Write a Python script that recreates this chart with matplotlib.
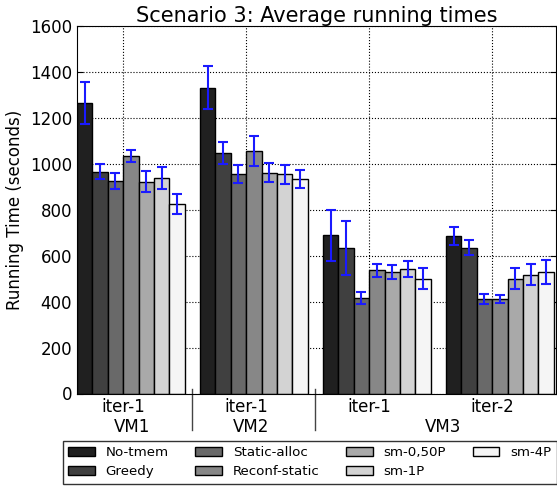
import matplotlib
matplotlib.use("Agg")
import matplotlib.pyplot as plt
import numpy as np

series = ["No-tmem", "Greedy", "Static-alloc", "Reconf-static", "sm-0,50P", "sm-1P", "sm-4P"]
colors = ["#202020", "#404040", "#696969", "#878787", "#a9a9a9", "#d3d3d3", "#f5f5f5"]
groups = ["iter-1", "iter-1", "iter-1", "iter-2"]
vm_labels = ["VM1", "VM2", "VM3"]

# values[group][series]
values = [
    [1266, 966, 925, 1033, 922, 938, 825],
    [1332, 1046, 957, 1055, 962, 954, 935],
    [688, 633, 417, 536, 529, 542, 500],
    [685, 635, 412, 412, 500, 517, 530],
]
errors = [
    [92, 33, 33, 25, 45, 47, 43],
    [93, 47, 39, 64, 43, 43, 39],
    [109, 116, 26, 28, 31, 33, 45],
    [38, 33, 21, 17, 45, 45, 52],
]

fig = plt.figure(figsize=(5.57, 4.87), dpi=100)
ax = fig.add_axes([77 / 557, 1 - 393.5 / 487, (556 - 77) / 557, (393.5 - 26) / 487])

vals = np.array(values)
errs = np.array(errors)
ng, ns = vals.shape
for s in range(ns):
    x = np.arange(ng) * (ns + 1) + s
    ax.bar(x, vals[:, s], width=1.0, align="edge", color=colors[s],
           edgecolor="black", linewidth=1.0, label=series[s], zorder=2)
    ax.errorbar(x + 0.5, vals[:, s], yerr=errs[:, s], fmt="none",
                ecolor=(0.1, 0.1, 1.0), elinewidth=1.5, capsize=3.5,
                capthick=1.5, zorder=3)

ax.set_xlim(0, 31.15)
ax.set_ylim(0, 1600)
ax.set_yticks(np.arange(0, 1601, 200))
ticks = np.arange(ng) * (ns + 1) + 3
ax.set_xticks(ticks)
ax.set_xticklabels(groups, fontsize=12)
ax.tick_params(axis="x", length=0, pad=3)
ax.tick_params(axis="y", direction="in", length=4, right=True, labelsize=12)
ax.grid(True, linestyle=":", color="black", linewidth=0.8, zorder=0)
ax.set_axisbelow(True)

# separators between VMs
for sx in [7.5, 15.5]:
    ax.plot([sx, sx], [0.012, -0.1], transform=ax.get_xaxis_transform(),
            color="#444444", linewidth=1.0, clip_on=False)

vm_x = [3.58, 11.33, 23.8]
for vx, lab in zip(vm_x, vm_labels):
    ax.text(vx, -0.09, lab, transform=ax.get_xaxis_transform(),
            ha="center", va="center", fontsize=12)

ax.set_title("Scenario 3: Average running times", fontsize=15, pad=3)
ax.set_ylabel("Running Time (seconds)", fontsize=12, labelpad=4)

leg = fig.legend(loc="upper left", bbox_to_anchor=(63 / 557, 1 - 441 / 487),
                 ncol=4, fontsize=9.6, frameon=True, fancybox=False,
                 handlelength=2.0, handleheight=0.6, borderaxespad=0,
                 labelspacing=0.45)
leg.get_frame().set_edgecolor("black")
leg.get_frame().set_linewidth(1.0)

fig.savefig("out.png", dpi=100)
